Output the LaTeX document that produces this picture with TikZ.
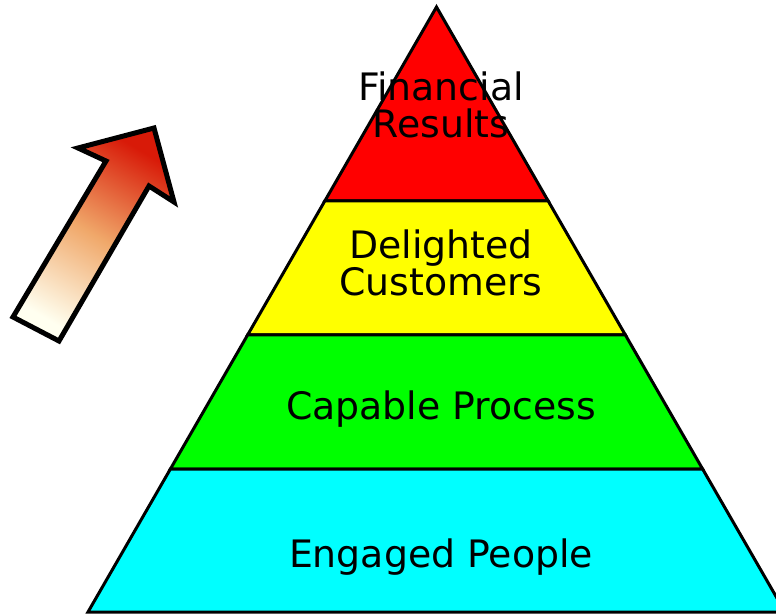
\documentclass[tikz,border=0pt]{standalone}
\usepackage{fontspec}
\setmainfont{DejaVu Sans}
\usetikzlibrary{positioning}
\usepackage{xcolor}

\definecolor{tipred}{HTML}{D81A08}
\definecolor{midorange}{HTML}{F0A86A}
\definecolor{tailcream}{HTML}{FFFFF0}
\definecolor{toplayer}{RGB}{255,0,0}
\definecolor{secondlayer}{RGB}{255,255,0}
\definecolor{thirdlayer}{RGB}{0,255,0}
\definecolor{baselayer}{RGB}{0,255,255}

\tikzset{
  layer/.style={draw=black, line width=1.5pt, line join=miter},
  layertext/.style={anchor=base, align=center, inner sep=0pt,
    font=\fontsize{18.9}{18.8}\selectfont}
}

\begin{document}
\begin{tikzpicture}[x=0.5pt,y=-0.5pt]

\useasboundingbox (0,0) rectangle (776,614);

%\draw[gray,very thin, step=50, opacity=0.5] (0,0) grid (776,614);

% corners of the pyramid
\coordinate (apex) at (436.5,7);
\coordinate (l1) at (324.8,201);
\coordinate (r1) at (548.2,201);
\coordinate (l2) at (247.6,335);
\coordinate (r2) at (625.4,335);
\coordinate (l3) at (170.4,469);
\coordinate (r3) at (702.6,469);
\coordinate (l4) at (88,612);
\coordinate (r4) at (785,612);

\draw[layer, fill=toplayer] (apex)--(r1)--(l1)--cycle;
\draw[layer, fill=secondlayer] (l1)--(r1)--(r2)--(l2)--cycle;
\draw[layer, fill=thirdlayer] (l2)--(r2)--(r3)--(l3)--cycle;
\draw[layer, fill=baselayer] (l3)--(r3)--(r4)--(l4)--cycle;

% base anchor of a two line node is the last line
\node[layertext] (financial) at (441,138) {Financial\\Results};
\node[layertext] (customers) at (441,296) {Delighted\\Customers};
\node[layertext] (process) at (441,420) {Capable Process};
\node[layertext] (people) at (441,567) {Engaged People};

% the block arrow
\draw[line width=2.5pt, line join=miter, top color=tipred, bottom color=tailcream,
  middle color=midorange, shading angle=-30.5]
  (13,317)--(59,341)--(149,186)--(174,202)--(154,128)--(78,148)--(106,161)--cycle;

\end{tikzpicture}
\end{document}
